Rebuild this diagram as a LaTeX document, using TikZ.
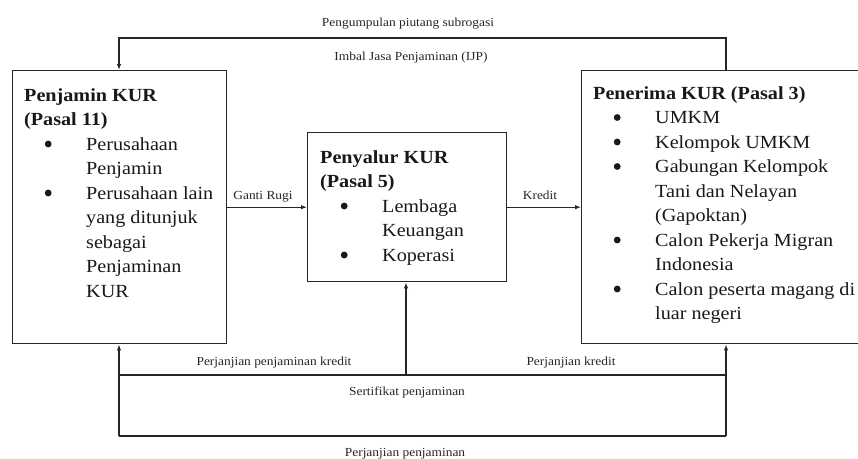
\documentclass[tikz,border=0pt]{standalone}
\usepackage{fontspec}
\setmainfont[FakeStretch=1.09]{Liberation Serif}
\usetikzlibrary{arrows.meta}
\newcommand{\bul}{\makebox[62pt][l]{\hspace*{20.6pt}\tikz[baseline=-6pt]\fill[black!90] (0,0) circle (3.4pt);}}
\begin{document}
\begin{tikzpicture}[x=1pt,y=-1pt,
  box/.style={draw=black!85, line width=1.4pt, rectangle, inner sep=0, anchor=north west},
  conn/.style={draw=black!85, line width=1.3pt},
  arr/.style={conn, -{Latex[length=6pt,width=4.5pt]}},
  lbl/.style={inner sep=0, anchor=base, font=\fontsize{12.3}{14}\selectfont, text=black!85},
  boxtext/.style={inner sep=0, anchor=base west, font=\fontsize{18.5}{24.5}\selectfont, text=black!90}]
\useasboundingbox (0,0) rectangle (858,458);
\clip (0,0) rectangle (858,458);
\fill[white] (0,0) rectangle (858,458);
% boxes
\node[box, minimum width=214pt, minimum height=273pt] (pen) at (12,70) {};
\node[box, minimum width=199pt, minimum height=149pt] (pyl) at (307,132) {};
\node[box, minimum width=290pt, minimum height=273pt] (rec) at (581,70) {};
% box texts
\node[boxtext] (penT) at (24,101) {\begin{tabular}[t]{@{}l@{}l@{}}
\multicolumn{2}{@{}l@{}}{\bfseries Penjamin KUR}\\
\multicolumn{2}{@{}l@{}}{\bfseries (Pasal 11)}\\
\bul & Perusahaan\\
 & Penjamin\\
\bul & Perusahaan lain\\
 & yang ditunjuk\\
 & sebagai\\
 & Penjaminan\\
 & KUR
\end{tabular}};
\node[boxtext] (pylT) at (320,163) {\begin{tabular}[t]{@{}l@{}l@{}}
\multicolumn{2}{@{}l@{}}{\bfseries Penyalur KUR}\\
\multicolumn{2}{@{}l@{}}{\bfseries (Pasal 5)}\\
\bul & Lembaga\\
 & Keuangan\\
\bul & Koperasi
\end{tabular}};
\node[boxtext] (recT) at (593,99) {\begin{tabular}[t]{@{}l@{}l@{}}
\multicolumn{2}{@{}l@{}}{\bfseries Penerima KUR (Pasal 3)}\\
\bul & UMKM\\
\bul & Kelompok UMKM\\
\bul & Gabungan Kelompok\\
 & Tani dan Nelayan\\
 & (Gapoktan)\\
\bul & Calon Pekerja Migran\\
 & Indonesia\\
\bul & Calon peserta magang di\\
 & luar negeri
\end{tabular}};
% coordinates
\coordinate (tR) at (726,38);
\coordinate (tL) at (119,38);
\coordinate (mL) at (119,375);
\coordinate (mR) at (726,375);
\coordinate (mC) at (406,375);
\coordinate (bL) at (119,436);
\coordinate (bR) at (726,436);
% connectors
\draw[arr] (rec.north -| tR) -- (tR) -- (tL) -- (pen.north -| tL);
\draw[arr] (pen.east) -- (pyl.west);
\draw[arr] (pyl.east) -- (rec.west);
\draw[conn] (mL) -- (mR);
\draw[conn] (bL) -- (bR);
\draw[arr] (bL) -- (pen.south -| bL);
\draw[arr] (bR) -- (rec.south -| bR);
\draw[arr] (mC) -- (pyl.south -| mC);
% labels
\node[lbl] (l1) at (408,26) {Pengumpulan piutang subrogasi};
\node[lbl] (l2) at (411,60) {Imbal Jasa Penjaminan (IJP)};
\node[lbl] (l3) at (263,199) {Ganti Rugi};
\node[lbl] (l4) at (540,199) {Kredit};
\node[lbl] (l5) at (274,365) {Perjanjian penjaminan kredit};
\node[lbl] (l6) at (571,365) {Perjanjian kredit};
\node[lbl] (l7) at (407,395) {Sertifikat penjaminan};
\node[lbl] (l8) at (405,456) {Perjanjian penjaminan};
\end{tikzpicture}
\end{document}
